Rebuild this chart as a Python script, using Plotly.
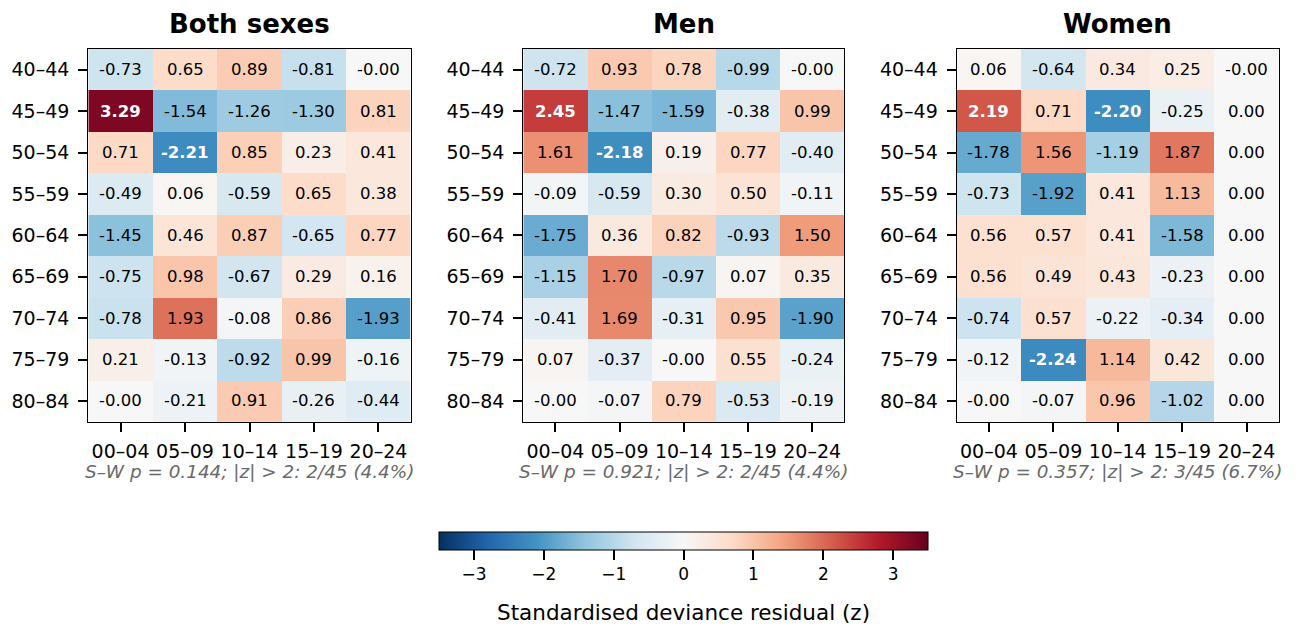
import plotly.graph_objects as go

age_groups = ["40–44", "45–49", "50–54", "55–59", "60–64", "65–69", "70–74", "75–79", "80–84"]
periods = ["00–04", "05–09", "10–14", "15–19", "20–24"]
panel_titles = ["Both sexes", "Men", "Women"]
colorbar_label = "Standardised deviance residual (z)"

z_both = [
    [-0.73, 0.65, 0.89, -0.81, -0.0],
    [3.29, -1.54, -1.26, -1.30, 0.81],
    [0.71, -2.21, 0.85, 0.23, 0.41],
    [-0.49, 0.06, -0.59, 0.65, 0.38],
    [-1.45, 0.46, 0.87, -0.65, 0.77],
    [-0.75, 0.98, -0.67, 0.29, 0.16],
    [-0.78, 1.93, -0.08, 0.86, -1.93],
    [0.21, -0.13, -0.92, 0.99, -0.16],
    [-0.0, -0.21, 0.91, -0.26, -0.44],
]
z_men = [
    [-0.72, 0.93, 0.78, -0.99, -0.0],
    [2.45, -1.47, -1.59, -0.38, 0.99],
    [1.61, -2.18, 0.19, 0.77, -0.40],
    [-0.09, -0.59, 0.30, 0.50, -0.11],
    [-1.75, 0.36, 0.82, -0.93, 1.50],
    [-1.15, 1.70, -0.97, 0.07, 0.35],
    [-0.41, 1.69, -0.31, 0.95, -1.90],
    [0.07, -0.37, -0.0, 0.55, -0.24],
    [-0.0, -0.07, 0.79, -0.53, -0.19],
]
z_women = [
    [0.06, -0.64, 0.34, 0.25, -0.0],
    [2.19, 0.71, -2.20, -0.25, 0.0],
    [-1.78, 1.56, -1.19, 1.87, 0.0],
    [-0.73, -1.92, 0.41, 1.13, 0.0],
    [0.56, 0.57, 0.41, -1.58, 0.0],
    [0.56, 0.49, 0.43, -0.23, 0.0],
    [-0.74, 0.57, -0.22, -0.34, 0.0],
    [-0.12, -2.24, 1.14, 0.42, 0.0],
    [-0.0, -0.07, 0.96, -1.02, 0.0],
]
sw_p = [0.144, 0.921, 0.357]

panels = [z_both, z_men, z_women]

rdbu_r = ["#053061", "#2166ac", "#4393c3", "#92c5de", "#d1e5f0", "#f7f7f7",
          "#fddbc7", "#f4a582", "#d6604d", "#b2182b", "#67001f"]
colorscale = [[i / 10, c] for i, c in enumerate(rdbu_r)]

W, H = 1296, 626
OFF = 8  # page body margin compensation
FONT = "DejaVu Sans"


def px(v):
    return (v - OFF) / W


def py(v):
    return 1 - (v - OFF) / H


x_doms = [(88.3, 410.7), (523.3, 844.3), (956.7, 1278.7)]
y_top, y_bot = 49.0, 421.7

fig = go.Figure()
annotations = []
for i, z in enumerate(panels):
    n = i + 1
    xa = "x" if n == 1 else f"x{n}"
    ya = "y" if n == 1 else f"y{n}"
    fig.add_trace(go.Heatmap(
        z=z, x=periods, y=age_groups, xaxis=xa, yaxis=ya,
        colorscale=colorscale, zmin=-3.5, zmax=3.5,
        showscale=(i == 0), hoverinfo="skip",
        colorbar=dict(
            orientation="h", x=px(683.6), xanchor="center", y=py(531.7), yanchor="top",
            lenmode="pixels", len=489, thicknessmode="pixels", thickness=17.6,
            xpad=0, ypad=0,
            outlinecolor="black", outlinewidth=1,
            tickmode="array", tickvals=[-3, -2, -1, 0, 1, 2, 3],
            ticks="outside", ticklen=10, tickwidth=1.5, tickcolor="black",
            tickfont=dict(family=FONT, size=17, color="black"),
        ),
    ))
    x0, x1 = x_doms[i]
    axis_common = dict(showline=True, mirror=True, linecolor="black", linewidth=1.2,
                       ticks="outside", ticklen=9, tickwidth=1.5, tickcolor="black",
                       tickfont=dict(family=FONT, size=19, color="black"),
                       showgrid=False, zeroline=False)
    fig.update_layout(**{
        ("xaxis" if n == 1 else f"xaxis{n}"): dict(domain=[px(x0), px(x1)], anchor=ya,
                                                   type="category", ticklabelstandoff=3,
                                                   **axis_common),
        ("yaxis" if n == 1 else f"yaxis{n}"): dict(domain=[py(y_bot), py(y_top)], anchor=xa,
                                                   type="category", autorange="reversed",
                                                   ticklabelstandoff=5, **axis_common),
    })
    # cell labels
    for r, ag in enumerate(age_groups):
        for c, pr in enumerate(periods):
            v = z[r][c]
            big = abs(v) > 2
            txt = f"{v:.2f}"
            annotations.append(dict(
                x=pr, y=ag, xref=xa, yref=ya, text=f"<b>{txt}</b>" if big else txt,
                showarrow=False,
                font=dict(family=FONT, size=16.5, color="white" if big else "black"),
            ))
    # title
    cx = px((x0 + x1) / 2)
    annotations.append(dict(x=cx, y=py(24.5), xref="paper", yref="paper",
                            text=f"<b>{panel_titles[i]}</b>", showarrow=False,
                            xanchor="center", yanchor="middle",
                            font=dict(family=FONT, size=26, color="black")))
    # stats subtitle
    n_ext = sum(1 for row in z for v in row if abs(v) > 2)
    n_tot = sum(len(row) for row in z)
    sub = f"S–W p = {sw_p[i]:.3f}; |z| > 2: {n_ext}/{n_tot} ({100 * n_ext / n_tot:.1f}%)"
    annotations.append(dict(x=cx, y=py(471), xref="paper", yref="paper",
                            text=f"<i>{sub}</i>", showarrow=False, borderpad=0,
                            xanchor="center", yanchor="middle",
                            font=dict(family=FONT, size=18.4, color="#6a6a6a")))

# colorbar label
annotations.append(dict(x=px(683.6), y=py(612), xref="paper", yref="paper",
                        text=colorbar_label, showarrow=False,
                        xanchor="center", yanchor="middle",
                        font=dict(family=FONT, size=21.5, color="black")))

fig.update_layout(width=W, height=H, margin=dict(l=0, r=0, t=0, b=0),
                  paper_bgcolor="white", plot_bgcolor="white",
                  annotations=annotations, font=dict(family=FONT))
fig.write_html("out.html")
